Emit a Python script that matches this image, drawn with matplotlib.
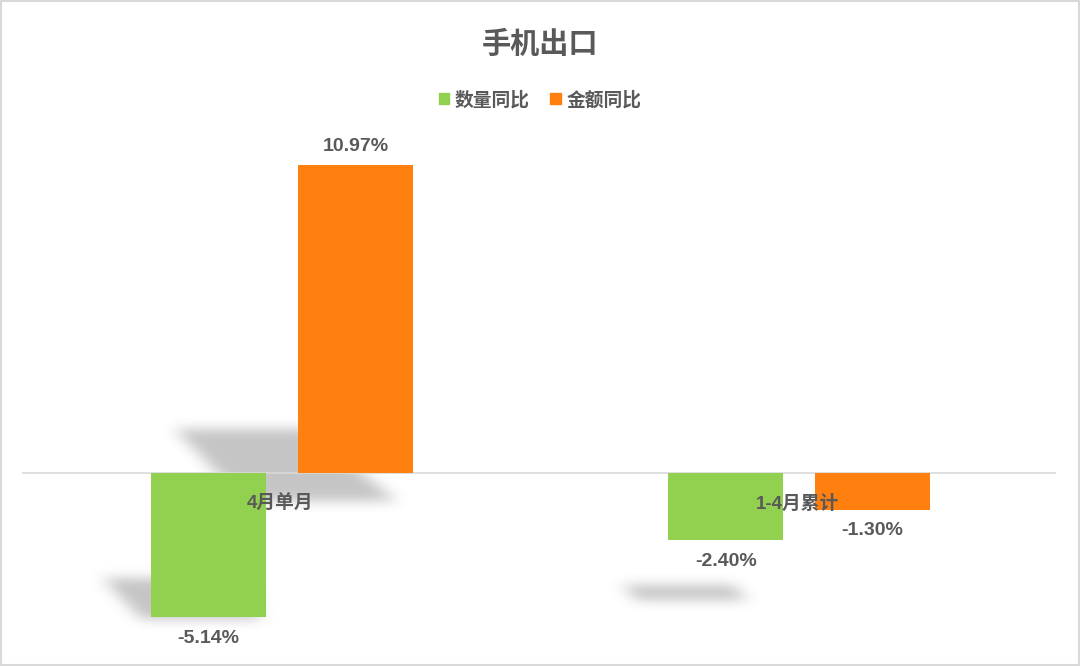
import matplotlib.pyplot as plt
import numpy as np
from matplotlib.patches import Patch, Rectangle
from matplotlib.path import Path

plt.rcParams['font.family'] = ['Liberation Sans', 'Noto Sans CJK SC', 'DejaVu Sans']

# data
categories = ['4月单月', '1-4月累计']
series_names = ['数量同比', '金额同比']
qty_yoy = [-5.14, -2.40]
amt_yoy = [10.97, -1.30]

green = '#92D050'
orange = '#FF7F0F'
txt = '#595959'

fig = plt.figure(figsize=(10.8, 6.66), dpi=100)
ax = fig.add_axes([22 / 1080, 16 / 666, 1034 / 1080, 520 / 666])
ax.set_xlim(-0.5, 1.5)
ax.set_ylim(-6.30, 12.21)

x = np.arange(len(categories))
w = 0.222
b1 = ax.bar(x - 0.139, qty_yoy, w, color=green, zorder=3)
b2 = ax.bar(x + 0.145, amt_yoy, w, color=orange, zorder=3)

# soft drop shadows (offsets relative to category centre, in data units)
shadows = [
    (0, [(-0.205, 1.55), (0.051, 1.55), (0.225, -1.00), (-0.069, -1.00)]),
    (0, [(-0.345, -3.75), (-0.059, -3.75), (-0.040, -5.20), (-0.270, -5.20)]),
    (1, [(-0.340, -4.00), (-0.125, -4.00), (-0.095, -4.52), (-0.310, -4.52)]),
]
nx, ny = 1034, 520
gx, gy = np.meshgrid(np.linspace(-0.5, 1.5, nx), np.linspace(12.21, -6.30, ny))
pts = np.column_stack([gx.ravel(), gy.ravel()])
mask = np.zeros(nx * ny)
for ci, quad in shadows:
    poly = Path([(ci + px, py) for px, py in quad])
    mask[poly.contains_points(pts)] = 1.0
mask = mask.reshape(ny, nx)


def blur(a, r, axis):
    k = np.ones(2 * r + 1) / (2 * r + 1)
    return np.apply_along_axis(lambda v: np.convolve(v, k, mode='same'), axis, a)


for _ in range(3):
    mask = blur(mask, 7, 1)
    mask = blur(mask, 5, 0)
img = np.zeros((ny, nx, 4))
img[..., :3] = 0.5
img[..., 3] = np.clip(mask * 0.45, 0, 1)
ax.imshow(img, extent=(-0.5, 1.5, -6.30, 12.21), aspect='auto', zorder=1,
          interpolation='bilinear')

ax.axhline(0, color='#d9d9d9', lw=1.2, zorder=2)

for bars in (b1, b2):
    for r in bars:
        v = r.get_height()
        cx = r.get_x() + r.get_width() / 2
        dy = 13 if v >= 0 else -15
        ax.annotate(f'{v:.2f}%', (cx, v), xytext=(0, dy), textcoords='offset points',
                    ha='center', va='center', fontsize=14, fontweight='bold', color=txt,
                    zorder=5)

for i, c in enumerate(categories):
    ax.annotate(c, (i, 0), xytext=(0, -22), textcoords='offset points',
                ha='center', va='center', fontsize=13.5, fontweight='bold', color=txt,
                zorder=5)

for s in ax.spines.values():
    s.set_visible(False)
ax.set_xticks([])
ax.set_yticks([])

fig.text(0.5, 1 - 45 / 666, '手机出口', ha='center', va='center', fontsize=21,
         fontweight='bold', color=txt)

handles = [Patch(color=green), Patch(color=orange)]
fig.legend(handles, series_names, loc='center', bbox_to_anchor=(0.5, 1 - 100 / 666),
           ncol=2, frameon=False, handlelength=0.55, handleheight=0.55, handletextpad=0.3,
           columnspacing=1.1, prop={'size': 13.5, 'weight': 'bold'}, labelcolor=txt)

fig.patches.append(Rectangle((0.001, 0.002), 0.998, 0.996, transform=fig.transFigure,
                             fill=False, edgecolor='#d9d9d9', lw=1.5))

fig.savefig('out.png', dpi=100)
